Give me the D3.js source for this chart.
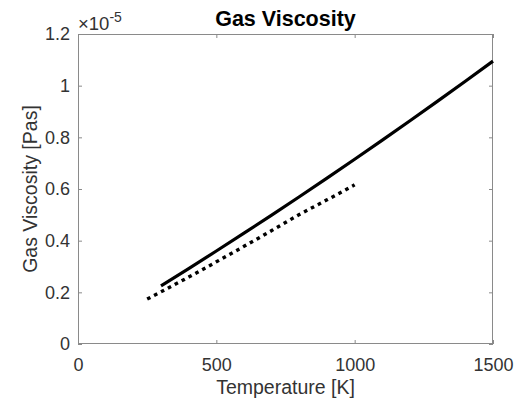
<!DOCTYPE html>
<html><head><meta charset="utf-8">
<script src="https://cdn.jsdelivr.net/npm/d3@7"></script>
<style>body{margin:0;background:#fff}svg{display:block}</style>
</head><body>
<script>
const temperatureSolid = [300,400,500,600,700,800,900,1000,1100,1200,1300,1400,1500];
const viscositySolid = [0.225e-5,0.292e-5,0.360e-5,0.429e-5,0.499e-5,0.570e-5,0.642e-5,0.715e-5,0.789e-5,0.864e-5,0.940e-5,1.017e-5,1.095e-5];
const temperatureDotted = [250,300,400,500,600,700,800,900,1000];
const viscosityDotted = [0.174e-5,0.202e-5,0.259e-5,0.318e-5,0.378e-5,0.439e-5,0.501e-5,0.558e-5,0.616e-5];
const xTicks = [0,500,1000,1500];
const yTicks = [0,0.2e-5,0.4e-5,0.6e-5,0.8e-5,1.0e-5,1.2e-5];
const yTickLabels = ["0","0.2","0.4","0.6","0.8","1","1.2"];

const W=521,H=408;
const L=78,R=493,T=34,B=344;
const svg=d3.select("body").append("svg").attr("width",W).attr("height",H);
const x=d3.scaleLinear().domain([0,1500]).range([L,R]);
const y=d3.scaleLinear().domain([0,1.2e-5]).range([B,T]);
const font="Liberation Sans, Arial, Helvetica, sans-serif";
const axisCol="#8a8a8a", textCol="#333";

// box
svg.append("rect").attr("x",L+0.5).attr("y",T+0.5).attr("width",R-L-1).attr("height",B-T-1)
  .attr("fill","none").attr("stroke",axisCol).attr("stroke-width",1);

// axes via d3
const gx=svg.append("g").attr("transform",`translate(0,${B})`)
  .call(d3.axisBottom(x).tickValues(xTicks).tickSize(-4).tickPadding(14).tickFormat(d3.format("d")));
const gxt=svg.append("g").attr("transform",`translate(0,${T})`)
  .call(d3.axisTop(x).tickValues(xTicks).tickSize(-4).tickFormat(""));
const gy=svg.append("g").attr("transform",`translate(${L},0)`)
  .call(d3.axisLeft(y).tickValues(yTicks).tickSize(-4).tickPadding(8).tickFormat((d,i)=>yTickLabels[i]));
const gyr=svg.append("g").attr("transform",`translate(${R},0)`)
  .call(d3.axisRight(y).tickValues(yTicks).tickSize(-4).tickFormat(""));
[gx,gxt,gy,gyr].forEach(g=>{
  g.select(".domain").remove();
  g.selectAll(".tick line").attr("stroke",axisCol);
  g.selectAll("text").attr("fill",textCol).attr("font-family",font).attr("font-size",18);
});

// lines
const line=d3.line().x(d=>x(d[0])).y(d=>y(d[1])).curve(d3.curveMonotoneX);
svg.append("path").datum(temperatureSolid.map((t,i)=>[t,viscositySolid[i]]))
  .attr("d",line).attr("fill","none").attr("stroke","#000").attr("stroke-width",3.2);
svg.append("path").datum(temperatureDotted.map((t,i)=>[t,viscosityDotted[i]]))
  .attr("d",line).attr("fill","none").attr("stroke","#000").attr("stroke-width",3.4)
  .attr("stroke-dasharray","3.6,4.2");

// exponent
const ex=svg.append("text").attr("x",L).attr("y",30).attr("fill",textCol)
  .attr("font-family",font).attr("font-size",18.5);
ex.append("tspan").text("\u00d710");
ex.append("tspan").attr("dy",-8).attr("font-size",14).text("-5");

// title
svg.append("text").attr("x",(L+R)/2).attr("y",26).attr("text-anchor","middle")
  .attr("font-family",font).attr("font-weight","bold").attr("font-size",21.5).attr("fill","#000")
  .text("Gas Viscosity");

// axis labels
svg.append("text").attr("x",(L+R)/2).attr("y",394).attr("text-anchor","middle")
  .attr("font-family",font).attr("font-size",19.5).attr("fill",textCol).text("Temperature [K]");
svg.append("text").attr("transform",`translate(37,${(T+B)/2}) rotate(-90)`).attr("text-anchor","middle")
  .attr("font-family",font).attr("font-size",19.5).attr("fill",textCol).text("Gas Viscosity [Pas]");
</script>
</body></html>
